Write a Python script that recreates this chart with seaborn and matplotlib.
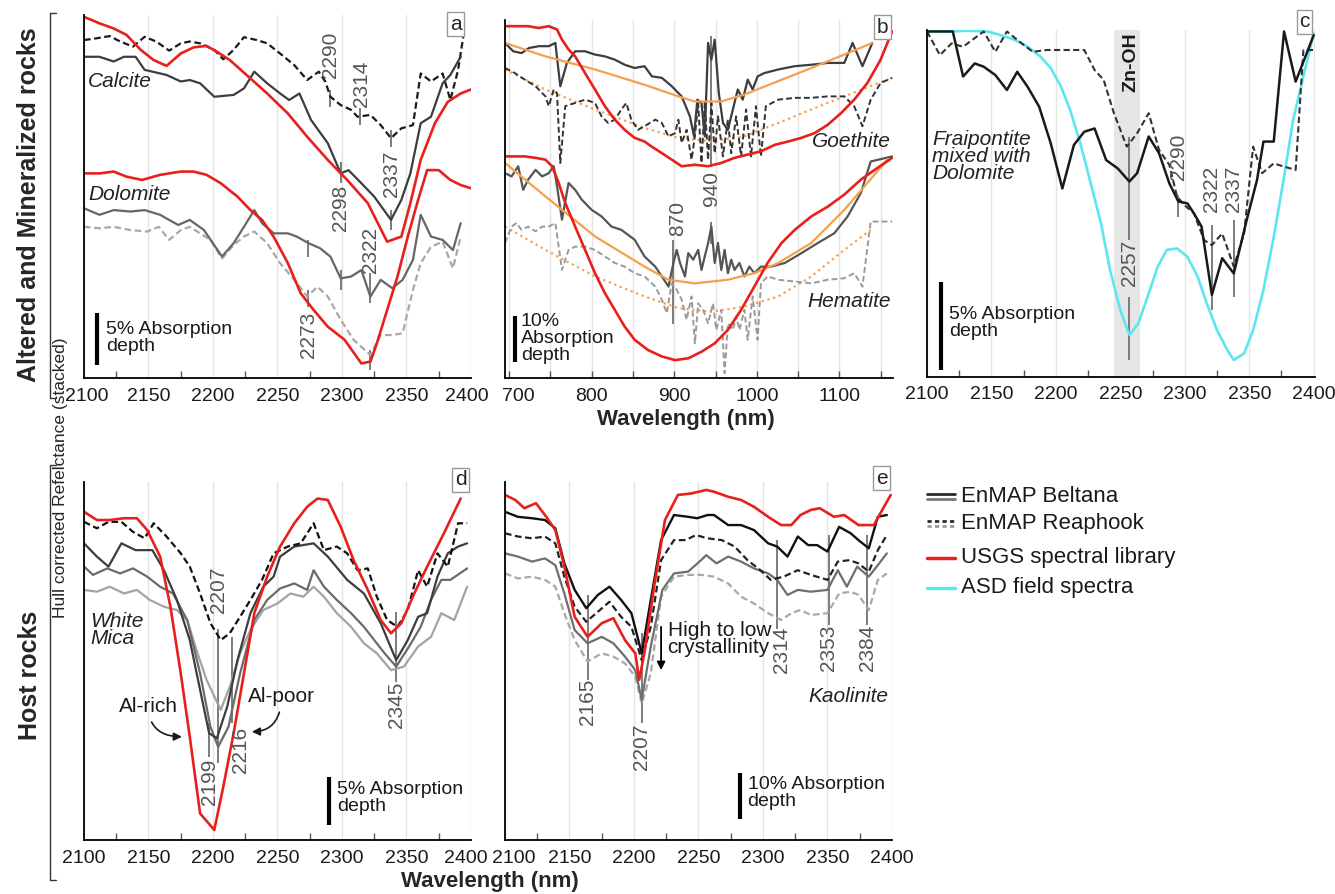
import matplotlib
matplotlib.use("Agg")
import matplotlib.pyplot as plt
import matplotlib.transforms as mtransforms
from matplotlib.lines import Line2D
from matplotlib.ticker import MultipleLocator
import seaborn as sns

sns.set_theme(style="white")
plt.rcParams["font.family"] = ["Liberation Sans", "DejaVu Sans"]
NARROW = ["Liberation Sans Narrow", "Liberation Sans", "DejaVu Sans"]

RED = "#e8201c"
ORANGE = "#f5a04c"
CYAN = "#5ce6f0"
LBL = "#555555"

# ---------------- panel a : calcite / dolomite ----------------
calc_bel_wl = [2100, 2112, 2123, 2131, 2140, 2147, 2164, 2175, 2182, 2190, 2201, 2216, 2224, 2232, 2242, 2252,
               2259, 2267, 2276, 2289, 2299, 2305, 2315, 2325, 2338, 2346, 2353, 2361, 2369, 2378, 2384, 2392]
calc_bel = [88.5, 88.5, 87.2, 88.5, 88.5, 84.9, 83.5, 81.7, 82.1, 81.2, 77.5, 78.0, 79.8, 84.4, 81.2, 78.4,
            76.6, 78.4, 71.1, 64.7, 56.4, 57.3, 53.7, 50.0, 43.6, 49.1, 56.4, 70.2, 72.0, 81.2, 83.5, 88.5]
calc_rea_wl = [2100, 2110, 2120, 2128, 2138, 2147, 2156, 2166, 2175, 2182, 2190, 2201, 2208, 2216, 2224, 2234,
               2242, 2252, 2263, 2273, 2282, 2287, 2291, 2299, 2307, 2312, 2322, 2330, 2338, 2346, 2355, 2361,
               2369, 2378, 2384, 2390, 2394]
calc_rea = [93.1, 93.6, 94.2, 92.7, 91.3, 94.0, 92.7, 90.2, 92.2, 92.7, 92.2, 90.4, 87.8, 90.4, 93.9, 93.1,
            92.2, 89.4, 86.2, 82.1, 84.4, 81.7, 77.5, 75.2, 73.9, 72.0, 72.5, 69.7, 66.1, 68.8, 69.7, 83.9,
            81.7, 83.9, 76.6, 84.9, 94.0]
calc_usgs_wl = [2100, 2112, 2123, 2133, 2144, 2154, 2164, 2175, 2185, 2195, 2203, 2213, 2226, 2242, 2258, 2273,
                2289, 2304, 2320, 2335, 2346, 2353, 2361, 2372, 2382, 2392, 2400]
calc_usgs = [99.5, 97.7, 96.3, 94.5, 90.4, 87.6, 86.0, 89.4, 91.1, 91.5, 89.9, 87.6, 83.5, 78.4, 72.9, 66.5,
             60.1, 54.6, 48.2, 37.6, 39.0, 48.2, 60.1, 70.2, 76.1, 78.4, 79.5]
dolo_usgs_wl = [2100, 2112, 2123, 2133, 2145, 2159, 2175, 2185, 2195, 2206, 2219, 2229, 2238, 2247, 2258, 2268,
                2278, 2289, 2302, 2315, 2322, 2327, 2335, 2343, 2351, 2359, 2366, 2375, 2384, 2392, 2400]
dolo_usgs = [56.4, 56.4, 56.9, 55.5, 54.6, 56.0, 56.9, 56.9, 56.0, 53.7, 50.0, 46.3, 43.6, 39.0, 31.7, 23.4,
             18.8, 14.2, 10.6, 4.1, 4.6, 9.6, 18.8, 28.0, 39.0, 49.1, 57.3, 57.3, 54.6, 53.2, 52.3]
dolo_bel_wl = [2100, 2112, 2123, 2136, 2147, 2159, 2173, 2182, 2193, 2207, 2216, 2224, 2232, 2238, 2247, 2258,
               2265, 2274, 2283, 2291, 2299, 2307, 2315, 2322, 2330, 2339, 2347, 2355, 2361, 2369, 2378, 2386, 2392]
dolo_bel = [46.8, 45.0, 46.3, 45.9, 46.3, 45.0, 42.2, 43.6, 40.8, 33.5, 37.2, 41.7, 46.3, 42.7, 39.9, 39.9,
            39.0, 37.2, 35.8, 33.5, 27.5, 28.0, 29.8, 22.5, 27.1, 24.8, 27.1, 32.6, 45.0, 39.0, 38.1, 35.3, 42.7]
dolo_rea_wl = [2100, 2112, 2123, 2136, 2149, 2158, 2166, 2175, 2182, 2190, 2198, 2207, 2216, 2224, 2232, 2242,
               2252, 2263, 2273, 2281, 2289, 2299, 2309, 2322, 2330, 2339, 2347, 2355, 2361, 2369, 2378, 2386, 2392]
dolo_rea = [41.7, 41.3, 41.7, 40.8, 40.4, 41.7, 38.1, 40.8, 41.7, 39.9, 38.1, 33.0, 36.7, 39.0, 40.4, 37.2,
            31.7, 27.1, 22.5, 25.2, 22.5, 16.1, 10.6, 6.4, 11.9, 11.9, 12.4, 24.3, 31.7, 36.2, 37.6, 30.3, 39.0]
a_labels = [("2290", 2291, 89.0), ("2314", 2315, 81.0), ("2337", 2338, 56.4),
            ("2298", 2299, 46.8), ("2322", 2322, 35.3), ("2273", 2274, 11.9)]
a_marks = [(2291, 74.8, 79.4), (2314, 69.7, 74.3), (2338, 63.8, 68.3), (2338, 40.8, 46.3), (2299, 53.7, 59.6),
           (2299, 24.3, 29.8), (2322, 20.6, 28.9), (2322, 2.3, 7.8), (2274, 33.5, 38.0), (2274, 19.7, 24.3)]

# ---------------- panel b : goethite / hematite ----------------
goe_bel_wl = [695, 705, 715, 724, 736, 748, 756, 762, 770, 780, 792, 804, 816, 828, 840, 852, 864, 873, 885, 897,
              909, 919, 924, 928, 933, 937, 941, 945, 949, 954, 959, 965, 971, 977, 983, 989, 995, 1001, 1009,
              1026, 1046, 1066, 1086, 1106, 1116, 1128, 1140]
goe_bel = [92.2, 89.9, 89.4, 90.8, 91.3, 91.3, 92.2, 80.3, 86.7, 89.9, 89.9, 89.0, 88.5, 87.6, 86.2, 85.3, 85.8,
           83.0, 82.6, 80.3, 77.5, 72.0, 66.5, 76.6, 75.7, 66.5, 92.2, 87.6, 93.1, 78.4, 70.2, 68.3, 73.9, 79.4,
           76.6, 82.1, 79.4, 83.0, 83.9, 84.9, 85.8, 86.2, 86.7, 86.7, 92.2, 85.8, 92.2]
goe_rea_wl = [695, 707, 719, 732, 744, 748, 754, 758, 762, 768, 780, 792, 804, 812, 820, 828, 836, 842, 848, 856,
              864, 877, 885, 893, 901, 905, 909, 915, 921, 925, 929, 933, 937, 941, 945, 949, 953, 959, 965, 969,
              975, 981, 987, 993, 999, 1005, 1011, 1026, 1046, 1066, 1086, 1106, 1118, 1128, 1138, 1150, 1164]
goe_rea = [85.3, 83.9, 82.1, 80.3, 77.5, 74.8, 79.4, 78.4, 59.2, 74.8, 75.7, 76.6, 75.7, 72.0, 70.2, 71.1, 73.9,
           75.7, 71.1, 68.3, 69.3, 71.1, 70.2, 66.5, 67.4, 71.1, 64.7, 68.3, 60.1, 66.5, 75.7, 59.2, 75.7, 60.1,
           75.7, 61.9, 72.0, 61.0, 71.1, 61.9, 72.0, 61.0, 73.9, 61.0, 74.8, 61.0, 74.8, 76.6, 77.1, 77.1, 77.5,
           77.5, 74.8, 69.3, 76.6, 81.2, 82.6]
goe_usgs_wl = [695, 707, 723, 736, 748, 758, 764, 772, 780, 792, 804, 816, 828, 840, 852, 864, 872, 885, 897, 909,
               925, 941, 957, 973, 989, 1005, 1022, 1038, 1054, 1070, 1086, 1102, 1118, 1134, 1150, 1164]
goe_usgs = [96.8, 96.8, 96.8, 96.3, 96.8, 95.9, 93.1, 90.4, 88.5, 83.9, 79.4, 74.8, 71.1, 68.3, 66.1, 65.1, 63.8,
            61.9, 60.1, 58.3, 58.7, 58.3, 59.2, 60.6, 61.5, 62.4, 64.2, 65.1, 66.1, 67.4, 69.7, 72.9, 76.6, 81.2,
            87.6, 95.4]
goe_fit_wl = [695, 744, 804, 864, 905, 925, 957, 985, 1026, 1066, 1106, 1140]
goe_fit = [92.2, 88.5, 84.9, 80.7, 77.5, 76.1, 76.1, 78.0, 81.7, 85.3, 89.0, 92.2]
goe_fit2_wl = [695, 744, 804, 864, 905, 945, 985, 1026, 1066, 1106, 1164]
goe_fit2 = [84.9, 79.4, 73.9, 68.8, 66.1, 65.1, 66.5, 70.2, 73.9, 77.5, 82.6]
hem_bel_wl = [695, 703, 711, 717, 723, 732, 740, 748, 754, 758, 764, 772, 780, 788, 800, 812, 824, 836, 852, 864,
              877, 885, 893, 899, 903, 907, 913, 917, 923, 929, 933, 937, 941, 945, 949, 953, 957, 961, 965, 969,
              973, 979, 985, 991, 997, 1005, 1017, 1034, 1054, 1074, 1094, 1110, 1126, 1138, 1164]
hem_bel = [56.4, 55.5, 58.3, 51.8, 54.6, 57.3, 55.5, 56.4, 58.3, 52.8, 43.6, 53.7, 51.8, 49.1, 46.3, 44.5, 41.7,
           40.8, 38.1, 33.5, 30.7, 28.0, 25.2, 31.7, 35.3, 31.7, 28.0, 34.4, 32.6, 35.3, 29.8, 33.5, 37.2, 41.7,
           31.7, 37.2, 29.8, 35.3, 28.9, 32.6, 29.8, 31.7, 28.0, 30.7, 28.9, 30.7, 30.7, 31.7, 34.4, 37.2, 39.9,
           44.5, 50.9, 59.6, 61.0]
hem_rea_wl = [695, 703, 709, 715, 723, 732, 740, 748, 756, 764, 772, 780, 792, 804, 816, 828, 840, 852, 864, 877,
              885, 891, 897, 903, 909, 915, 921, 925, 929, 935, 941, 947, 951, 957, 961, 965, 971, 975, 979, 985,
              989, 995, 1001, 1005, 1013, 1026, 1046, 1066, 1086, 1106, 1118, 1128, 1138, 1164]
hem_rea = [37.2, 41.7, 42.7, 40.8, 41.7, 40.4, 41.7, 41.7, 42.7, 29.8, 35.3, 36.2, 36.2, 35.3, 33.5, 31.7, 30.7,
           28.9, 28.0, 25.2, 21.6, 17.9, 26.1, 24.3, 21.6, 16.1, 22.5, 9.6, 20.6, 18.8, 15.1, 20.6, 13.3, 18.8,
           1.4, 15.1, 13.3, 17.0, 13.3, 18.8, 10.6, 22.5, 10.6, 26.1, 28.0, 27.1, 26.6, 26.1, 27.1, 27.5, 28.9,
           25.2, 43.1, 43.1]
hem_usgs_wl = [695, 707, 719, 732, 744, 752, 760, 768, 780, 792, 804, 816, 828, 840, 852, 868, 885, 901, 917, 933,
               949, 965, 981, 997, 1013, 1030, 1046, 1066, 1086, 1106, 1126, 1146, 1164]
hem_usgs = [61.0, 61.0, 61.0, 60.6, 60.1, 58.3, 53.7, 48.2, 41.7, 35.3, 28.9, 23.4, 18.8, 14.2, 10.6, 7.8, 6.0,
            5.0, 5.5, 7.3, 9.6, 13.3, 18.8, 25.2, 31.7, 37.2, 40.8, 44.5, 47.2, 50.5, 54.6, 57.8, 60.6]
hem_fit_wl = [695, 744, 804, 864, 893, 925, 965, 997, 1026, 1066, 1106, 1134, 1158]
hem_fit = [59.2, 50.0, 39.0, 30.7, 27.1, 26.1, 27.1, 28.9, 31.7, 37.2, 46.3, 53.7, 60.1]
hem_fit2_wl = [695, 744, 804, 864, 905, 945, 985, 1026, 1066, 1106, 1138]
hem_fit2 = [41.7, 35.3, 28.0, 22.5, 19.3, 18.3, 19.7, 22.5, 28.0, 35.3, 40.8]
b_labels = [("940", 945, 52.3), ("870", 904, 44.0)]
b_marks = [(945, 58.0, 94.0), (899, 15.0, 38.0), (945, 37.0, 43.0)]

# ---------------- panel c : fraipontite ----------------
c_bel_wl = [2100, 2120, 2128, 2137, 2144, 2153, 2162, 2170, 2178, 2187, 2196, 2205, 2214, 2222, 2230, 2239, 2248,
            2257, 2263, 2272, 2280, 2288, 2295, 2302, 2307, 2313, 2321, 2329, 2338, 2348, 2356, 2361, 2369, 2377,
            2386, 2400]
c_bel = [95.0, 95.0, 82.6, 86.2, 85.3, 83.0, 78.9, 83.9, 79.8, 74.3, 64.2, 51.8, 63.8, 67.4, 68.3, 59.6, 57.3,
         53.7, 56.0, 66.1, 61.5, 53.2, 48.2, 47.7, 45.0, 41.3, 22.5, 32.6, 28.4, 43.1, 54.1, 64.7, 64.7, 95.0,
         81.2, 94.0]
c_rea_wl = [2100, 2110, 2119, 2128, 2144, 2153, 2162, 2170, 2182, 2193, 2204, 2214, 2222, 2230, 2237, 2245, 2255,
            2263, 2272, 2280, 2288, 2294, 2301, 2307, 2315, 2321, 2329, 2338, 2346, 2353, 2360, 2369, 2377, 2386,
            2392, 2400]
c_rea = [95.0, 88.5, 91.7, 90.8, 95.0, 89.4, 95.0, 92.7, 89.4, 89.9, 89.9, 89.9, 89.9, 84.4, 81.7, 72.5, 63.3,
         67.0, 72.5, 62.4, 58.3, 49.5, 46.8, 45.0, 37.6, 36.2, 39.4, 30.3, 39.4, 63.3, 56.0, 58.7, 57.8, 56.9,
         89.9, 89.9]
c_asd_wl = [2100, 2119, 2131, 2147, 2157, 2168, 2178, 2188, 2196, 2204, 2211, 2219, 2227, 2235, 2242, 2250, 2257,
            2264, 2272, 2279, 2286, 2294, 2302, 2310, 2317, 2325, 2333, 2338, 2346, 2353, 2361, 2369, 2377, 2384,
            2392, 2400]
c_asd = [95.0, 95.0, 95.2, 95.0, 94.0, 92.7, 90.8, 88.1, 84.9, 79.8, 73.4, 64.2, 53.2, 42.2, 29.4, 18.3, 11.5,
         14.7, 22.9, 30.3, 34.9, 35.3, 33.0, 27.5, 20.2, 12.8, 7.3, 4.6, 6.4, 12.8, 23.9, 38.5, 55.0, 70.6, 82.6,
         94.5]
c_labels = [("2257", 2257, 31.2), ("2290", 2295, 60.6), ("2322", 2321, 51.8), ("2337", 2338, 51.8)]
c_marks = [(2257, 37.6, 66.0), (2257, 4.6, 22.0), (2321, 18.3, 41.7), (2338, 22.0, 43.0), (2295, 44.0, 50.0)]

# ---------------- panel d : white mica ----------------
d_bel1_wl = [2100, 2110, 2119, 2129, 2140, 2153, 2162, 2172, 2182, 2190, 2197, 2203, 2211, 2219, 2229, 2239, 2247,
             2252, 2263, 2278, 2289, 2304, 2317, 2330, 2342, 2351, 2359, 2366, 2374, 2382, 2390, 2397]
d_bel1 = [82.8, 79.1, 76.3, 82.8, 80.9, 80.9, 75.3, 67.0, 55.8, 41.9, 29.8, 28.4, 37.2, 50.2, 63.3, 70.7, 73.5,
          79.1, 81.9, 82.8, 79.1, 72.6, 68.8, 60.5, 50.2, 55.8, 62.3, 63.3, 73.5, 80.0, 81.9, 82.8]
d_bel2_wl = [2100, 2107, 2118, 2128, 2138, 2149, 2159, 2169, 2180, 2190, 2198, 2204, 2212, 2221, 2232, 2242, 2252,
             2263, 2273, 2278, 2286, 2296, 2307, 2317, 2325, 2333, 2342, 2352, 2361, 2369, 2377, 2384, 2397]
d_bel2 = [76.3, 74.0, 75.8, 74.4, 75.8, 73.5, 70.7, 68.8, 61.4, 46.5, 31.6, 26.0, 31.6, 46.5, 61.4, 67.0, 70.2,
          71.6, 69.8, 75.3, 70.7, 67.0, 63.3, 59.5, 55.8, 52.1, 48.4, 54.0, 59.5, 67.0, 72.6, 72.6, 75.8]
d_bel3_wl = [2100, 2110, 2120, 2131, 2141, 2151, 2162, 2172, 2180, 2188, 2195, 2206, 2213, 2221, 2229, 2239, 2250,
             2260, 2270, 2278, 2286, 2296, 2307, 2317, 2327, 2338, 2348, 2359, 2369, 2377, 2387, 2397]
d_bel3 = [69.8, 69.3, 70.7, 68.8, 69.8, 67.0, 65.1, 64.2, 61.4, 52.1, 44.7, 36.3, 42.8, 52.1, 58.6, 64.2, 66.0,
          68.8, 67.9, 70.7, 67.9, 63.3, 59.5, 54.9, 52.1, 47.4, 48.4, 54.0, 56.7, 63.3, 61.4, 70.7]
d_rea_wl = [2100, 2110, 2119, 2129, 2138, 2147, 2154, 2164, 2175, 2182, 2190, 2198, 2206, 2213, 2221, 2229, 2238,
            2247, 2258, 2268, 2278, 2286, 2296, 2304, 2312, 2320, 2327, 2335, 2343, 2351, 2359, 2366, 2374, 2382,
            2390, 2397]
d_rea = [88.8, 87.0, 88.8, 88.8, 86.0, 84.2, 88.4, 84.7, 80.0, 76.3, 68.8, 60.5, 55.8, 57.7, 62.3, 67.0, 72.6,
         80.0, 81.9, 82.8, 88.4, 80.9, 81.9, 80.0, 75.3, 75.8, 67.9, 61.4, 59.5, 64.2, 75.3, 70.7, 80.0, 76.3,
         88.4, 88.4]
d_usgs_wl = [2100, 2110, 2120, 2131, 2141, 2149, 2159, 2167, 2175, 2182, 2190, 2201, 2208, 2216, 2224, 2232, 2242,
             2252, 2263, 2273, 2281, 2289, 2299, 2309, 2320, 2330, 2338, 2346, 2356, 2366, 2379, 2392]
d_usgs = [91.6, 89.3, 89.3, 89.8, 89.8, 86.5, 79.1, 65.1, 46.5, 28.8, 7.4, 2.8, 14.9, 29.8, 46.5, 63.3, 73.5,
          81.9, 88.4, 93.0, 95.3, 94.9, 87.4, 78.1, 69.8, 61.4, 57.7, 60.5, 68.8, 76.3, 85.6, 95.3]
d_labels = [("2207", 2204, 69.8), ("2199", 2197, 16.3), ("2216", 2221, 25.1), ("2345", 2342, 37.7)]
d_marks = [(2204, 21.4, 59.0), (2197, 23.3, 32.6), (2215, 32.6, 56.7), (2342, 44.2, 63.7)]

# ---------------- panel e : kaolinite ----------------
e_usgs_wl = [2100, 2108, 2115, 2124, 2132, 2139, 2146, 2154, 2164, 2175, 2184, 2193, 2201, 2204, 2208, 2216, 2224,
             2234, 2244, 2256, 2262, 2273, 2283, 2293, 2304, 2314, 2322, 2329, 2337, 2344, 2355, 2363, 2374, 2386,
             2391, 2399]
e_usgs = [96.3, 94.9, 92.6, 94.0, 90.2, 86.5, 76.3, 62.3, 56.7, 60.5, 61.9, 55.8, 52.1, 44.7, 52.1, 71.6, 89.3,
          96.3, 96.7, 97.7, 97.2, 95.8, 94.9, 93.0, 90.2, 87.9, 87.9, 90.7, 92.1, 92.6, 90.2, 90.7, 87.9, 87.9,
          91.2, 96.3]
e_bel_wl = [2100, 2110, 2121, 2131, 2139, 2146, 2154, 2163, 2172, 2181, 2190, 2198, 2206, 2213, 2221, 2231, 2242,
            2249, 2257, 2262, 2273, 2283, 2293, 2304, 2311, 2319, 2327, 2335, 2342, 2350, 2359, 2368, 2374, 2382,
            2389, 2396]
e_bel = [91.6, 90.2, 89.8, 89.3, 87.0, 77.2, 69.8, 64.7, 68.4, 70.7, 67.0, 63.3, 52.1, 67.0, 83.7, 90.7, 90.2,
         89.8, 90.7, 90.7, 87.9, 87.9, 86.5, 82.8, 81.9, 79.1, 84.7, 82.3, 82.3, 80.5, 87.4, 85.6, 83.7, 81.4,
         90.2, 90.7]
e_rea_wl = [2100, 2110, 2121, 2131, 2139, 2146, 2154, 2163, 2172, 2181, 2190, 2198, 2206, 2213, 2221, 2231, 2240,
            2248, 2257, 2268, 2278, 2288, 2298, 2306, 2316, 2327, 2337, 2350, 2358, 2367, 2374, 2382, 2389, 2396]
e_rea = [85.6, 84.7, 84.2, 84.7, 82.8, 73.5, 65.1, 60.9, 63.7, 66.5, 62.3, 59.5, 50.2, 59.5, 78.1, 83.7, 83.7,
         85.1, 84.2, 83.7, 81.9, 78.1, 75.3, 72.6, 73.5, 75.3, 74.0, 72.6, 77.7, 78.1, 77.2, 74.9, 80.9, 85.1]
e_bel2_wl = [2100, 2110, 2121, 2131, 2139, 2146, 2154, 2164, 2175, 2184, 2193, 2201, 2206, 2213, 2222, 2231, 2242,
             2252, 2256, 2264, 2273, 2283, 2293, 2304, 2311, 2319, 2327, 2337, 2350, 2358, 2365, 2373, 2382, 2389,
             2396]
e_bel2 = [80.0, 79.1, 77.7, 78.6, 76.7, 68.8, 58.6, 54.9, 56.7, 54.9, 51.2, 47.4, 39.1, 54.0, 69.8, 74.4, 74.9,
          78.1, 79.5, 77.2, 79.1, 77.7, 75.8, 74.4, 72.6, 68.4, 69.8, 69.3, 69.8, 75.3, 70.7, 76.3, 73.5, 76.7, 80.0]
e_rea2_wl = [2100, 2110, 2121, 2131, 2139, 2146, 2154, 2164, 2175, 2184, 2193, 2201, 2206, 2213, 2221, 2231, 2242,
             2252, 2262, 2273, 2283, 2293, 2304, 2314, 2322, 2329, 2337, 2350, 2359, 2368, 2374, 2382, 2389, 2396]
e_rea2 = [74.4, 73.0, 73.5, 72.6, 70.7, 63.3, 55.8, 49.8, 52.1, 51.2, 49.3, 45.6, 38.1, 46.5, 67.9, 73.5, 74.0,
          74.0, 73.5, 71.6, 67.9, 66.0, 63.3, 61.4, 63.3, 64.2, 62.8, 63.3, 68.8, 69.3, 68.4, 64.2, 72.6, 74.4]
e_labels = [("2165", 2164, 38.6), ("2207", 2206, 26.0), ("2314", 2314, 53.0), ("2353", 2351, 53.5),
            ("2384", 2381, 53.5)]
e_marks = [(2164, 44.7, 68.4), (2206, 32.6, 57.7), (2311, 59.0, 83.7), (2351, 60.0, 85.0), (2381, 60.0, 85.0)]

legend_names = ["EnMAP Beltana", "EnMAP Reaphook", "USGS spectral library", "ASD field spectra"]


def spec(ax, wl, val, color, ls="-", lw=1.6):
    sns.lineplot(x=wl, y=val, ax=ax, color=color, linestyle=ls, linewidth=lw,
                 estimator=None, sort=False, legend=False)


def setup(ax, xlim, ytop, major, minor, grid_minor=False):
    ax.set_xlim(*xlim)
    ax.set_ylim(0, ytop)
    ax.xaxis.set_major_locator(MultipleLocator(major))
    ax.xaxis.set_minor_locator(MultipleLocator(minor))
    ax.set_axisbelow(True)
    ax.grid(axis="x", which="both" if grid_minor else "major", color="#e4e4e4", lw=1)
    ax.grid(axis="y", visible=False)
    ax.set_yticks([])
    for s in ["top", "right"]:
        ax.spines[s].set_visible(False)
    for s in ["left", "bottom"]:
        ax.spines[s].set_color("black")
        ax.spines[s].set_linewidth(1.3)
    ax.tick_params(axis="x", which="major", length=0, labelsize=14, pad=7, labelcolor="#1a1a1a")
    ax.tick_params(axis="x", which="minor", bottom=True, length=5, width=1, direction="in", color="#555555")
    ax.set_xlabel("")
    ax.set_ylabel("")


def marks(ax, labels, ticks):
    for s, x, y in labels:
        ax.text(x, y, s, rotation=90, ha="center", va="center", fontsize=15, color=LBL)
    for x, y0, y1 in ticks:
        ax.vlines(x, y0, y1, color="#666666", lw=1.2, zorder=1)


def scalebar(ax, x, y0, y1, tx, ty, txt):
    ax.vlines(x, y0, y1, color="black", lw=3)
    ax.text(tx, ty, txt, ha="left", va="center", fontsize=14, color="#1a1a1a", linespacing=1.0)


def letter(ax, x, y, s):
    ax.text(x, y, s, ha="center", va="center", fontsize=15, clip_on=False,
            bbox=dict(boxstyle="square,pad=0.12", fc="white", ec="#9a9a9a", lw=1))


fig = plt.figure(figsize=(13.35, 8.94), dpi=100)
W, H = 1335.0, 894.0


def box(x0, x1, ytop, ybot):
    return [x0 / W, 1 - ybot / H, (x1 - x0) / W, (ybot - ytop) / H]


ax_a = fig.add_axes(box(84, 471, 15, 378.3))
ax_b = fig.add_axes(box(505, 893, 20, 378.3))
ax_c = fig.add_axes(box(927, 1315, 30, 376.7))
ax_d = fig.add_axes(box(84, 471, 481.7, 840))
ax_e = fig.add_axes(box(505, 892, 481.7, 840))

# panel a
setup(ax_a, (2100, 2400), 100, 50, 25)
spec(ax_a, calc_rea_wl, calc_rea, "#1a1a1a", (0, (3, 1.6)))
spec(ax_a, calc_bel_wl, calc_bel, "#3d3d3d")
spec(ax_a, dolo_rea_wl, dolo_rea, "#a8a8a8", (0, (3, 1.6)))
spec(ax_a, dolo_bel_wl, dolo_bel, "#666666")
spec(ax_a, calc_usgs_wl, calc_usgs, RED, lw=1.9)
spec(ax_a, dolo_usgs_wl, dolo_usgs, RED, lw=1.9)
marks(ax_a, a_labels, a_marks)
ax_a.text(2103, 81.7, "Calcite", fontsize=15, style="italic", va="center", color="#222222")
ax_a.text(2103, 50.5, "Dolomite", fontsize=15, style="italic", va="center", color="#222222")
scalebar(ax_a, 2110, 3.7, 17.9, 2117, 11.0, "5% Absorption\ndepth")
letter(ax_a, 2388, 97.5, "a")

# panel b
setup(ax_b, (695, 1165), 98.5, 100, 50, grid_minor=True)
ax_b.tick_params(axis="x", which="major", bottom=True, length=5, width=1, direction="in", color="#555555")
spec(ax_b, goe_fit2_wl, goe_fit2, ORANGE, ":", 1.6)
spec(ax_b, hem_fit2_wl, hem_fit2, ORANGE, ":", 1.6)
spec(ax_b, goe_rea_wl, goe_rea, "#333333", (0, (3, 1.6)), 1.4)
spec(ax_b, hem_rea_wl, hem_rea, "#9a9a9a", (0, (3, 1.6)), 1.4)
spec(ax_b, goe_bel_wl, goe_bel, "#3d3d3d")
spec(ax_b, hem_bel_wl, hem_bel, "#555555")
spec(ax_b, goe_fit_wl, goe_fit, ORANGE, lw=1.6)
spec(ax_b, hem_fit_wl, hem_fit, ORANGE, lw=1.6)
spec(ax_b, goe_usgs_wl, goe_usgs, RED, lw=1.9)
spec(ax_b, hem_usgs_wl, hem_usgs, RED, lw=1.9)
marks(ax_b, b_labels, b_marks)
ax_b.text(1162, 65.1, "Goethite", fontsize=15, style="italic", ha="right", va="center", color="#222222")
ax_b.text(1162, 21.1, "Hematite", fontsize=15, style="italic", ha="right", va="center", color="#222222")
scalebar(ax_b, 707, 4.6, 17.0, 714, 11.0, "10%\nAbsorption\ndepth")
letter(ax_b, 1152, 96.5, "b")

# panel c
setup(ax_c, (2100, 2401), 95.4, 50, 25)
ax_c.axvspan(2245, 2265, color="#e6e6e6", lw=0, zorder=0)
spec(ax_c, c_asd_wl, c_asd, CYAN, lw=1.9)
spec(ax_c, c_rea_wl, c_rea, "#333333", (0, (3, 1.6)), 1.5)
spec(ax_c, c_bel_wl, c_bel, "#1a1a1a", lw=1.8)
marks(ax_c, c_labels, c_marks)
ax_c.text(2258, 86.5, "Zn-OH", rotation=90, ha="center", va="center", fontsize=14, fontweight="bold",
          color="#1a1a1a")
ax_c.text(2104, 60.6, "Fraipontite\nmixed with\nDolomite", fontsize=15, style="italic", va="center",
          linespacing=0.85, color="#222222")
scalebar(ax_c, 2111, 1.8, 26.1, 2117, 14.7, "5% Absorption\ndepth")
letter(ax_c, 2393, 97.7, "c")

# panel d
setup(ax_d, (2100, 2400), 100, 50, 25)
spec(ax_d, d_bel3_wl, d_bel3, "#a3a3a3")
spec(ax_d, d_bel2_wl, d_bel2, "#6a6a6a")
spec(ax_d, d_bel1_wl, d_bel1, "#3d3d3d")
spec(ax_d, d_rea_wl, d_rea, "#111111", (0, (3, 1.6)))
spec(ax_d, d_usgs_wl, d_usgs, RED, lw=1.9)
marks(ax_d, d_labels, d_marks)
ax_d.text(2105, 58.6, "White\nMica", fontsize=15, style="italic", va="center", linespacing=0.9, color="#222222")
ax_d.annotate("Al-rich", xy=(2177, 28.8), xytext=(2150, 37.2), ha="center", va="center", fontsize=15,
              color="#1a1a1a",
              arrowprops=dict(arrowstyle="-|>", color="#1a1a1a", lw=1.2, mutation_scale=12,
                              connectionstyle="angle3,angleA=-90,angleB=0", shrinkA=2, shrinkB=1))
ax_d.annotate("Al-poor", xy=(2229, 30.2), xytext=(2253, 40.0), ha="center", va="center", fontsize=15,
              color="#1a1a1a",
              arrowprops=dict(arrowstyle="-|>", color="#1a1a1a", lw=1.2, mutation_scale=12,
                              connectionstyle="angle3,angleA=-90,angleB=0", shrinkA=2, shrinkB=1))
scalebar(ax_d, 2290, 4.2, 17.7, 2296, 11.6, "5% Absorption\ndepth")
letter(ax_d, 2392, 100.5, "d")

# panel e
setup(ax_e, (2100, 2400), 100, 50, 25)
spec(ax_e, e_rea2_wl, e_rea2, "#a8a8a8", (0, (3, 1.6)))
spec(ax_e, e_bel2_wl, e_bel2, "#6e6e6e")
spec(ax_e, e_rea_wl, e_rea, "#222222", (0, (3, 1.6)))
spec(ax_e, e_bel_wl, e_bel, "#111111", lw=1.7)
spec(ax_e, e_usgs_wl, e_usgs, RED, lw=1.9)
marks(ax_e, e_labels, e_marks)
ax_e.annotate("", xy=(2221, 47.4), xytext=(2221, 59.5),
              arrowprops=dict(arrowstyle="-|>", color="black", lw=1.3, mutation_scale=12, shrinkA=0, shrinkB=0))
ax_e.text(2226, 56.0, "High to low\ncrystallinity", fontsize=15, va="center", linespacing=0.85, color="#1a1a1a")
ax_e.text(2397, 40.0, "Kaolinite", fontsize=15, style="italic", ha="right", va="center", color="#222222")
scalebar(ax_e, 2282, 6.0, 18.6, 2288, 13.0, "10% Absorption\ndepth")
letter(ax_e, 2392, 101.0, "e")

# legend drawn in its own axes, in pixel units of the picture
lg = fig.add_axes(box(900, 1200, 480, 620))
lg.set_xlim(0, 300)
lg.set_ylim(140, 0)
lg.axis("off")
rows = [16, 43, 78, 108]
lg.plot([27, 55], [rows[0] - 2.5] * 2, color="#2a2a2a", lw=2)
lg.plot([27, 55], [rows[0] + 2.5] * 2, color="#777777", lw=2)
lg.plot([27, 55], [rows[1] - 2.5] * 2, color="#2a2a2a", lw=2, ls=(0, (1.5, 1.2)))
lg.plot([27, 55], [rows[1] + 2.5] * 2, color="#9a9a9a", lw=2, ls=(0, (1.5, 1.2)))
lg.plot([27, 55], [rows[2]] * 2, color=RED, lw=2.5)
lg.plot([27, 55], [rows[3]] * 2, color=CYAN, lw=2.5)
for r, name in zip(rows, legend_names):
    lg.text(61, r, name, fontsize=16, va="center", color="#1a1a1a")

# shared labels
fig.text(686 / W, 1 - 419 / H, "Wavelength (nm)", ha="center", va="center", fontsize=16, fontweight="bold")
fig.text(490 / W, 1 - 882 / H, "Wavelength (nm)", ha="center", va="center", fontsize=16, fontweight="bold")
fig.text(29 / W, 1 - 205 / H, "Altered and Mineralized rocks", rotation=90, ha="center", va="center",
         fontsize=18, fontweight="bold", family=NARROW)
fig.text(30 / W, 1 - 675 / H, "Host rocks", rotation=90, ha="center", va="center",
         fontsize=18, fontweight="bold", family=NARROW)
fig.text(61 / W, 1 - 478 / H, "Hull corrected Refelctance (stacked)", rotation=90, ha="center", va="center",
         fontsize=12.5, family=NARROW)
for y0, y1 in [(13, 398), (465, 880)]:
    xs = [56 / W, 50 / W, 50 / W, 56 / W]
    ys = [1 - y0 / H, 1 - y0 / H, 1 - y1 / H, 1 - y1 / H]
    fig.add_artist(Line2D(xs, ys, color="#333333", lw=1))

# edge tick labels sit slightly apart where two panels meet, as in the figure
fig.canvas.draw()
shifts = [(ax_b, "700", 9), (ax_e, "2100", 9), (ax_a, "2400", -4), (ax_d, "2400", -5), (ax_a, "2100", 3)]
for ax, txt, dx in shifts:
    for tk in ax.xaxis.get_major_ticks():
        if tk.label1.get_text() == txt:
            tk.label1.set_transform(tk.label1.get_transform() +
                                    mtransforms.ScaledTranslation(dx / 100, 0, fig.dpi_scale_trans))

fig.savefig("out.png", dpi=100)
